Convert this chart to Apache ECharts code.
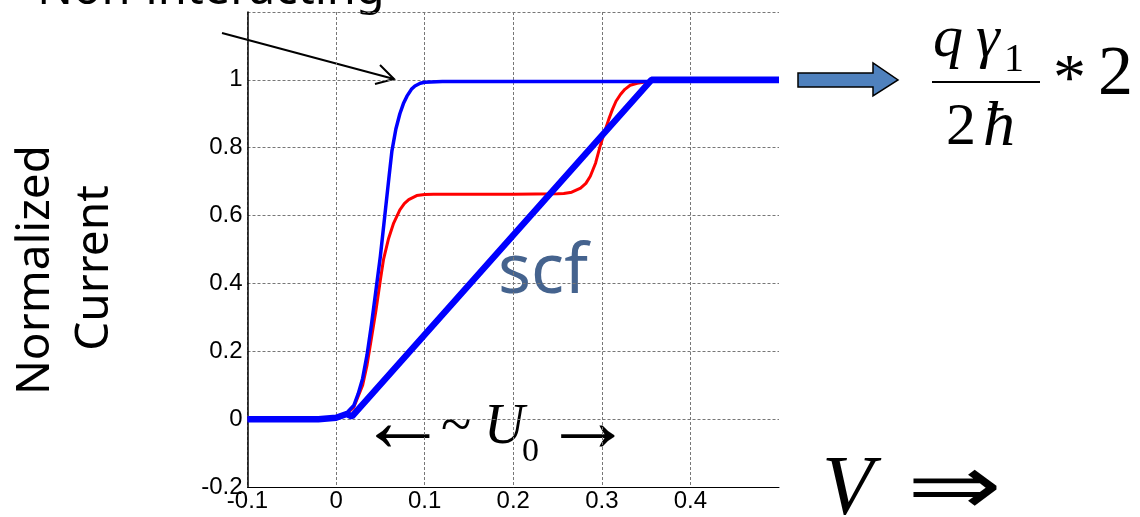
<!DOCTYPE html>
<html><head><meta charset="utf-8">
<script src="https://cdn.jsdelivr.net/npm/echarts@6/dist/echarts.min.js"></script>
<style>html,body{margin:0;padding:0;background:#fff}#c{width:1140px;height:517px}</style>
</head><body><div id="c"></div>
<script>
// Axis ranges
const xMin = -0.1, xMax = 0.5, xStep = 0.1;
const yMin = -0.2, yMax = 1.2, yStep = 0.2;

// Non-interacting (thin blue)
const nonInteracting = [
  [-0.1,0],[-0.05,0],[-0.02,0],[-0.01,0.001],[0,0.004],[0.01,0.013],[0.02,0.04],[0.025,0.075],[0.03,0.12],
  [0.035,0.19],[0.04,0.28],[0.045,0.38],[0.05,0.48],[0.055,0.6],[0.06,0.72],[0.063,0.79],[0.0675,0.855],[0.072,0.90],
  [0.076,0.93],[0.08,0.952],[0.085,0.972],[0.089,0.982],[0.095,0.99],[0.1,0.993],[0.12,0.995],[0.2,0.995],[0.3,0.995],[0.4,0.995],[0.5,0.995]
];
// Interacting, exact (red)
const interacting = [
  [-0.1,0],[-0.05,0],[-0.02,0],[-0.01,0.001],[0,0.004],[0.01,0.012],[0.02,0.035],[0.03,0.1],[0.035,0.16],[0.04,0.24],
  [0.045,0.32],[0.05,0.41],[0.0535,0.47],[0.059,0.53],[0.065,0.578],[0.072,0.617],[0.077,0.635],[0.082,0.647],[0.091,0.659],[0.1,0.662],[0.11,0.663],
  [0.2,0.663],[0.25,0.664],[0.257,0.665],[0.266,0.669],[0.276,0.681],[0.282,0.695],[0.287,0.716],[0.293,0.755],[0.298,0.804],
  [0.304,0.854],[0.308,0.885],[0.312,0.913],[0.316,0.937],[0.321,0.957],[0.326,0.972],[0.332,0.984],[0.34,0.99],[0.347,0.993],[0.36,0.997],[0.5,0.997]
];
// Self-consistent field (thick blue)
const scf = [
  [-0.1,0],[-0.05,0],[-0.02,0],[0,0.004],[0.012,0.015],[0.018,0.008],[0.356,1.0],[0.5,1.0]
];

const chart = echarts.init(document.getElementById('c'), null, {renderer:'canvas'});
const serif = "'Liberation Serif','Times New Roman',serif";
const sans = "'Noto Sans',sans-serif";

chart.setOption({
  animation: false,
  backgroundColor: '#fff',
  grid: {left: 247.5, right: 361, top: 12, bottom: 30, containLabel: false},
  xAxis: {
    type: 'value', min: xMin, max: xMax, interval: xStep,
    axisLine: {show: true, onZero: false, lineStyle: {color: '#000', width: 1}},
    axisTick: {show: false},
    axisLabel: {color: '#000', fontFamily: "'Liberation Sans',Arial,sans-serif", fontSize: 24, margin: 2, showMaxLabel: false},
    splitLine: {show: true, showMaxLine: false, lineStyle: {color: '#777', type: [3,2], width: 1}}
  },
  yAxis: {
    type: 'value', min: yMin, max: yMax, interval: yStep,
    axisLine: {show: true, onZero: false, lineStyle: {color: '#000', width: 1.5}},
    axisTick: {show: false},
    axisLabel: {color: '#000', fontFamily: "'Liberation Sans',Arial,sans-serif", fontSize: 24, margin: 5, showMaxLabel: false},
    splitLine: {show: true, lineStyle: {color: '#777', type: [3,2], width: 1}}
  },
  series: [
    {name: 'Interacting', type: 'line', data: interacting, showSymbol: false, smooth: false,
     lineStyle: {color: '#ff0000', width: 3, join: 'round'}, z: 2},
    {name: 'Non-interacting', type: 'line', data: nonInteracting, showSymbol: false, smooth: false,
     lineStyle: {color: '#0000ff', width: 3.5, join: 'round'}, z: 3},
    {name: 'scf', type: 'line', data: scf, showSymbol: false,
     lineStyle: {color: '#0000ff', width: 6.5}, z: 4}
  ],
  graphic: [
    // Non-interacting label + arrow
    {type: 'text', x: 211, y: -9, style: {text: 'Non-interacting', font: "47px " + sans, fill: '#000', textAlign: 'center', textVerticalAlign: 'middle'}},
    {type: 'polyline', shape: {points: [[222,33],[394,79]]}, style: {stroke: '#000', lineWidth: 2, fill: null}},
    {type: 'polyline', shape: {points: [[380,65],[394,79],[375,84]]}, style: {stroke: '#000', lineWidth: 2, fill: null}},
    // y axis title
    {type: 'text', x: 36, y: 270, rotation: Math.PI/2, style: {text: 'Normalized', font: "46px " + sans, fill: '#000', textAlign: 'center', textVerticalAlign: 'middle'}},
    {type: 'text', x: 95, y: 268, rotation: Math.PI/2, style: {text: 'Current', font: "46px " + sans, fill: '#000', textAlign: 'center', textVerticalAlign: 'middle'}},
    // scf label
    {type: 'text', x: 498, y: 273, style: {text: 'scf', font: "69px " + sans, fill: '#45638e', textAlign: 'left', textVerticalAlign: 'middle'}},
    // block arrow
    {type: 'polygon', shape: {points: [[798,73],[873,73],[873,63],[898,80],[873,96],[873,87],[798,87]]},
     style: {fill: '#4f81bd', stroke: '#000', lineWidth: 1.5}},
    // formula
    {type: 'text', x: 933, y: 40, style: {text: 'q', font: "italic 60px " + serif, fill: '#000', textAlign: 'left', textVerticalAlign: 'middle'}},
    {type: 'text', x: 976, y: 40, style: {text: 'γ', font: "italic 60px " + serif, fill: '#000', textAlign: 'left', textVerticalAlign: 'middle'}},
    {type: 'text', x: 1004, y: 60, style: {text: '1', font: "40px " + serif, fill: '#000', textAlign: 'left', textVerticalAlign: 'middle'}},
    {type: 'line', shape: {x1: 932, y1: 82, x2: 1040, y2: 82}, style: {stroke: '#000', lineWidth: 2}},
    {type: 'text', x: 946, y: 128, style: {text: '2', font: "60px " + serif, fill: '#000', textAlign: 'left', textVerticalAlign: 'middle'}},
    {type: 'text', x: 983, y: 128, style: {text: 'ħ', font: "italic 64px " + serif, fill: '#000', textAlign: 'left', textVerticalAlign: 'middle'}},
    {type: 'text', x: 1053, y: 82, style: {text: '*', font: "66px " + serif, fill: '#000', textAlign: 'left', textVerticalAlign: 'middle'}},
    {type: 'text', x: 1098, y: 76, style: {text: '2', font: "70px " + serif, fill: '#000', textAlign: 'left', textVerticalAlign: 'middle'}},
    // ~U0 annotation
    {type: 'text', x: 358, y: 427, style: {text: '←', font: "90px " + serif, fill: '#000', textAlign: 'left', textVerticalAlign: 'middle'}},
    {type: 'text', x: 441, y: 428, style: {text: '~', font: "56px " + serif, fill: '#000', textAlign: 'left', textVerticalAlign: 'middle'}},
    {type: 'text', x: 484, y: 428, style: {text: 'U', font: "italic 56px " + serif, fill: '#000', textAlign: 'left', textVerticalAlign: 'middle'}},
    {type: 'text', x: 522, y: 452, style: {text: '0', font: "34px " + serif, fill: '#000', textAlign: 'left', textVerticalAlign: 'middle'}},
    {type: 'text', x: 543, y: 427, style: {text: '→', font: "90px " + serif, fill: '#000', textAlign: 'left', textVerticalAlign: 'middle'}},
    // V =>
    {type: 'text', x: 822, y: 492, style: {text: 'V', font: "italic 84px " + serif, fill: '#000', textAlign: 'left', textVerticalAlign: 'middle'}},
    {type: 'text', x: 907, y: 492, scaleX: 1.35, style: {text: '⇒', font: "84px " + serif, fill: '#000', textAlign: 'left', textVerticalAlign: 'middle'}}
  ]
});
</script></body></html>
